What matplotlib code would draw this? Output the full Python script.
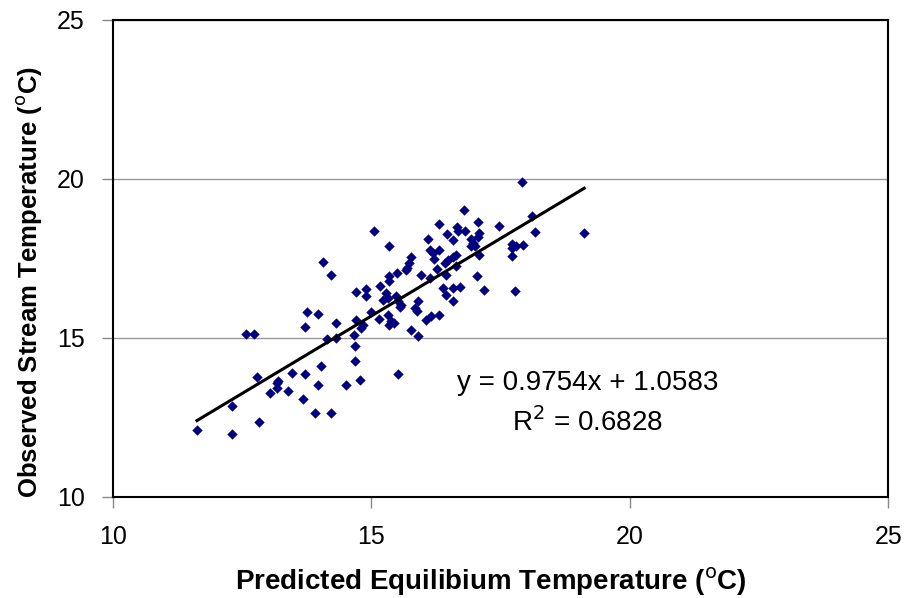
import matplotlib.pyplot as plt
import numpy as np

plt.rcParams['font.family'] = ['Liberation Sans', 'DejaVu Sans']

# predicted equilibrium temperature (x) and observed stream temperature (y), deg C
pred = [14.07, 14.23, 14.71, 14.89, 14.90, 13.75, 13.97, 13.71, 14.32, 14.71,
        14.84, 14.81, 12.57, 12.73, 14.15, 14.31, 14.66, 14.69, 14.69, 14.02,
        12.79, 13.20, 13.17, 13.47, 13.71, 13.18, 13.04, 13.39, 13.68, 13.97,
        14.52, 14.79, 15.51, 12.31, 13.92, 14.23, 12.82, 11.63, 12.31,
        17.91, 18.11, 18.17, 19.12, 16.80, 16.32, 17.07, 17.48, 15.05, 16.66,
        16.67, 16.82, 16.46, 17.09, 17.06, 16.59, 16.09, 16.93, 16.96, 16.93,
        17.01, 15.34, 16.13, 16.19, 16.32, 17.72, 17.80, 17.93, 17.72, 17.73,
        17.09, 15.77, 16.64, 16.58, 16.48, 16.43, 16.21, 15.74, 15.69, 15.68,
        16.27, 16.64, 15.50, 15.35, 15.34, 15.97, 16.13, 16.45, 17.05, 15.17,
        15.29, 15.22, 15.32, 15.48, 15.51, 15.58, 15.55, 16.38, 16.45, 16.59,
        16.72, 17.19, 17.79, 16.58, 15.90, 15.84, 15.88, 15.00, 15.15, 15.32,
        15.39, 15.35, 15.44, 16.06, 16.16, 16.31, 15.77, 15.90]
obs = [17.39, 16.97, 16.45, 16.54, 16.33, 15.81, 15.76, 15.35, 15.47, 15.58,
       15.42, 15.31, 15.11, 15.11, 14.97, 15.00, 15.10, 14.76, 14.26, 14.11,
       13.76, 13.66, 13.58, 13.90, 13.87, 13.43, 13.27, 13.32, 13.09, 13.53,
       13.53, 13.67, 13.88, 12.87, 12.64, 12.64, 12.35, 12.12, 11.98,
       19.92, 18.82, 18.32, 18.30, 19.01, 18.59, 18.64, 18.53, 18.37, 18.49,
       18.37, 18.35, 18.27, 18.30, 18.19, 18.09, 18.11, 18.11, 17.99, 17.88,
       17.90, 17.88, 17.78, 17.67, 17.78, 17.97, 17.90, 17.93, 17.83, 17.59,
       17.62, 17.55, 17.62, 17.55, 17.46, 17.36, 17.48, 17.36, 17.20, 17.15,
       17.17, 17.25, 17.04, 16.94, 16.78, 16.99, 16.89, 16.99, 16.94, 16.64,
       16.42, 16.20, 16.26, 16.33, 16.15, 16.05, 15.97, 16.57, 16.36, 16.57,
       16.60, 16.52, 16.47, 16.15, 16.15, 15.94, 15.84, 15.81, 15.60, 15.73,
       15.52, 15.42, 15.47, 15.58, 15.68, 15.71, 15.26, 15.05]

slope = 0.9754
intercept = 1.0583
r2 = 0.6828

fig = plt.figure(figsize=(9.06, 5.98), dpi=100)
ax = fig.add_axes([0.1244, 0.169, 0.856, 0.7976])

ax.scatter(pred, obs, marker='D', s=28, color='#000080', zorder=3, linewidths=0)

xl = np.array([min(pred), max(pred)])
ax.plot(xl, slope * xl + intercept, color='black', lw=2.2, zorder=4)

ax.set_xlim(10, 25)
ax.set_ylim(10, 25)
ax.set_xticks([10, 15, 20, 25])
ax.set_yticks([10, 15, 20, 25])
ax.yaxis.grid(True, color='#999999', lw=1)
ax.set_axisbelow(True)
for s in ax.spines.values():
    s.set_linewidth(1.5)
    s.set_color('black')
ax.tick_params(direction='out', length=8, width=1, color='#888888',
               labelsize=18, pad=12)

ax.set_xlabel('Predicted Equilibium Temperature ($^{\\rm o}$C)',
              fontsize=20, fontweight='bold')
ax.set_ylabel('Observed Stream Temperature ($^{\\rm o}$C)',
              fontsize=18.5, fontweight='bold')
ax.xaxis.set_label_coords(0.487, -0.145)
ax.yaxis.set_label_coords(-0.088, 0.45)

ax.text(19.19, 13.59, 'y = %.4fx + %.4f' % (slope, intercept),
        fontsize=20, ha='center', va='center')
ax.text(19.19, 12.34, 'R$^2$ = %.4f' % r2,
        fontsize=20, ha='center', va='center')

fig.savefig('out.png', dpi=100)
